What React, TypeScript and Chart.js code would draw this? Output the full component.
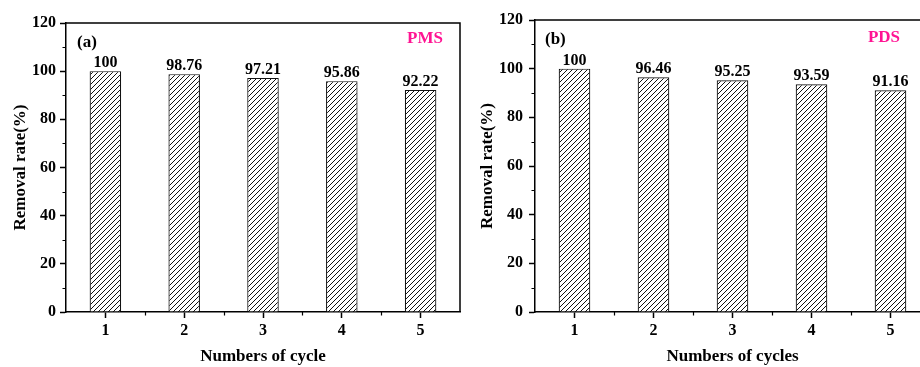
import React, { useEffect, useRef } from 'react';
import { Chart, registerables } from 'chart.js';

Chart.register(...registerables);

// ---- data ----
const cycles = ['1', '2', '3', '4', '5'];
const pmsRemoval = [100, 98.76, 97.21, 95.86, 92.22];
const pdsRemoval = [100, 96.46, 95.25, 93.59, 91.16];
const yMin = 0;
const yMax = 120;
const yMajorStep = 20;
const yMinorStep = 10;
const panelTags = ['(a)', '(b)'];
const oxidants = ['PMS', 'PDS'];
const xTitles = ['Numbers of cycle', 'Numbers of cycles'];
const yTitle = 'Removal rate(%)';

const FONT = "'Liberation Serif', 'Times New Roman', serif";
const PINK = '#FF1493';

function makeHatch(): CanvasPattern | string {
  const c = document.createElement('canvas');
  const s = 5;
  c.width = s;
  c.height = s;
  const g = c.getContext('2d');
  if (!g) return '#fff';
  g.fillStyle = '#fff';
  g.fillRect(0, 0, s, s);
  g.strokeStyle = '#111';
  g.lineWidth = 1;
  g.beginPath();
  g.moveTo(-1, s + 1);
  g.lineTo(s + 1, -1);
  g.moveTo(-1, 1);
  g.lineTo(1, -1);
  g.moveTo(s - 1, s + 1);
  g.lineTo(s + 1, s - 1);
  g.stroke();
  return g.createPattern(c, 'repeat') || '#fff';
}

type PanelCfg = {
  left: number;
  width: number;
  values: number[];
  tag: string;
  oxidant: string;
  xTitle: string;
  yAxisWidth: number;
  padTop: number;
  padRight: number;
  yTitlePad: number;
  yTickPad: number;
  tagDx: number;
  tagDy: number;
  oxDx: number;
  oxDy: number;
};

function Panel({ cfg }: { cfg: PanelCfg }) {
  const ref = useRef<HTMLCanvasElement>(null);
  useEffect(() => {
    const canvas = ref.current;
    if (!canvas) return;
    const decor = {
      id: 'decor',
      afterDraw(chart: any) {
        const { ctx, chartArea: a } = chart;
        const ys = chart.scales.y;
        const xs = chart.scales.x;
        ctx.save();
        ctx.strokeStyle = '#000';
        ctx.lineWidth = 1.5;
        ctx.beginPath();
        ctx.moveTo(a.left, a.top);
        ctx.lineTo(a.right, a.top);
        ctx.lineTo(a.right, a.bottom);
        ctx.stroke();
        // minor ticks
        ctx.lineWidth = 1.2;
        ctx.beginPath();
        for (let v = yMin + yMinorStep; v < yMax; v += yMajorStep) {
          const py = Math.round(ys.getPixelForValue(v)) + 0.5;
          ctx.moveTo(a.left - 3.5, py);
          ctx.lineTo(a.left, py);
        }
        for (let i = 0; i < cycles.length - 1; i++) {
          const px = Math.round((xs.getPixelForValue(i) + xs.getPixelForValue(i + 1)) / 2) + 0.5;
          ctx.moveTo(px, a.bottom);
          ctx.lineTo(px, a.bottom + 3.5);
        }
        ctx.stroke();
        // value labels
        ctx.fillStyle = '#000';
        ctx.font = `bold 16px ${FONT}`;
        ctx.textAlign = 'center';
        ctx.textBaseline = 'alphabetic';
        const meta = chart.getDatasetMeta(0);
        meta.data.forEach((bar: any, i: number) => {
          ctx.fillText(String(cfg.values[i]), bar.x, bar.y - 4);
        });
        // panel tag
        ctx.font = `bold 17px ${FONT}`;
        ctx.textBaseline = 'middle';
        ctx.textAlign = 'left';
        ctx.fillText(cfg.tag, a.left + cfg.tagDx, a.top + cfg.tagDy);
        ctx.fillStyle = PINK;
        ctx.textAlign = 'right';
        ctx.fillText(cfg.oxidant, a.right - cfg.oxDx, a.top + cfg.oxDy);
        ctx.restore();
      },
    };
    const tickFont = { family: FONT, size: 16, weight: 'bold' as const };
    const titleFont = { family: FONT, size: 17, weight: 'bold' as const };
    const chart = new Chart(canvas, {
      type: 'bar',
      data: {
        labels: cycles,
        datasets: [
          {
            data: cfg.values,
            backgroundColor: makeHatch() as any,
            borderColor: '#111',
            borderWidth: 1.2,
            barPercentage: 0.4,
            categoryPercentage: 1,
          },
        ],
      },
      options: {
        animation: false,
        responsive: false,
        devicePixelRatio: 1,
        layout: { padding: { left: 0, top: cfg.padTop, right: cfg.padRight, bottom: 0 } },
        plugins: { legend: { display: false }, tooltip: { enabled: false }, title: { display: false } },
        scales: {
          x: {
            type: 'category',
            offset: true,
            afterFit(scale: any) {
              scale.height = 55;
            },
            border: { display: true, color: '#000', width: 1.5 },
            grid: {
              display: true,
              drawOnChartArea: false,
              drawTicks: true,
              offset: false,
              tickLength: 6,
              tickColor: '#000',
              tickWidth: 1.5,
            },
            ticks: { color: '#000', font: tickFont, padding: 3, maxRotation: 0 },
            title: {
              display: true,
              text: cfg.xTitle,
              color: '#000',
              font: titleFont,
              padding: { top: 0, bottom: 0 },
            },
          },
          y: {
            type: 'linear',
            min: yMin,
            max: yMax,
            afterFit(scale: any) {
              scale.width = cfg.yAxisWidth;
            },
            border: { display: true, color: '#000', width: 1.5 },
            grid: {
              display: true,
              drawOnChartArea: false,
              drawTicks: true,
              tickLength: 6,
              tickColor: '#000',
              tickWidth: 1.5,
            },
            ticks: { stepSize: yMajorStep, color: '#000', font: tickFont, padding: cfg.yTickPad },
            title: {
              display: true,
              text: yTitle,
              color: '#000',
              font: titleFont,
              padding: { top: cfg.yTitlePad, bottom: 0 },
            },
          },
        },
      },
      plugins: [decor],
    });
    return () => chart.destroy();
  }, []);
  return (
    <canvas
      ref={ref}
      width={cfg.width}
      height={367}
      style={{ position: 'absolute', left: cfg.left, top: 0, width: cfg.width, height: 367 }}
    />
  );
}

const panels: PanelCfg[] = [
  {
    left: 0,
    width: 462,
    values: pmsRemoval,
    tag: panelTags[0],
    oxidant: oxidants[0],
    xTitle: xTitles[0],
    yAxisWidth: 66,
    padTop: 23,
    padRight: 2,
    yTitlePad: 10,
    yTickPad: 4,
    tagDx: 11,
    tagDy: 20,
    oxDx: 17,
    oxDy: 16,
  },
  {
    left: 462,
    width: 480,
    values: pdsRemoval,
    tag: panelTags[1],
    oxidant: oxidants[1],
    xTitle: xTitles[1],
    yAxisWidth: 73,
    padTop: 20,
    padRight: 12,
    yTitlePad: 15,
    yTickPad: 6,
    tagDx: 10,
    tagDy: 20,
    oxDx: 30,
    oxDy: 18,
  },
];

export default function App() {
  return (
    <div
      style={{
        position: 'fixed',
        left: 0,
        top: 0,
        width: 920,
        height: 367,
        overflow: 'hidden',
        background: '#fff',
      }}
    >
      {panels.map((p, i) => (
        <Panel key={i} cfg={p} />
      ))}
    </div>
  );
}
